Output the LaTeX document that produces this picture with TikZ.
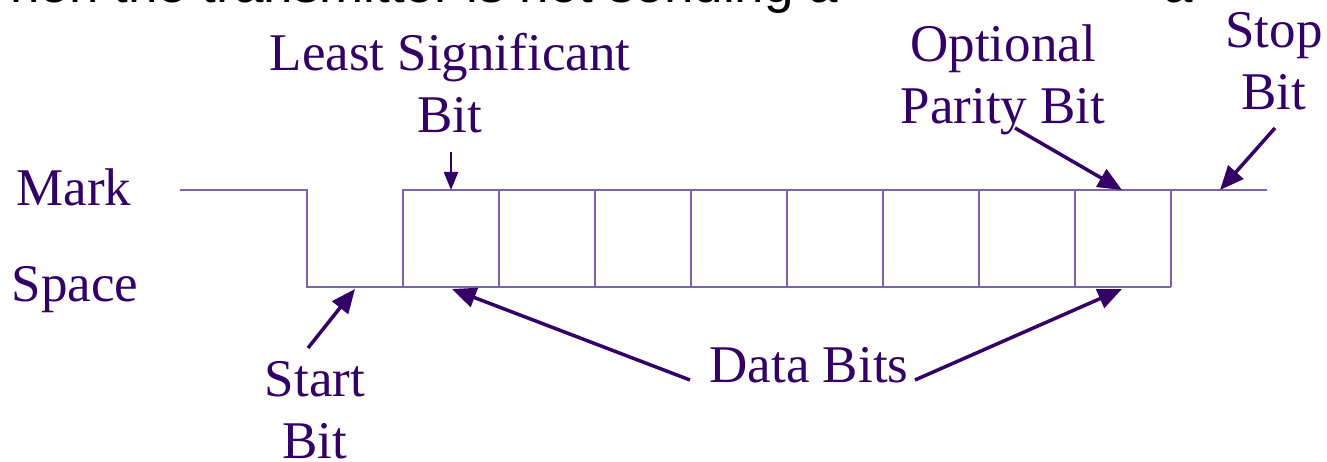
\documentclass[tikz,border=0pt]{standalone}
\usepackage{fontspec}
\setmainfont{Liberation Serif}
\newfontfamily\headfont{Liberation Sans}
\usetikzlibrary{arrows.meta}
\definecolor{ink}{HTML}{330066}
\definecolor{wire}{HTML}{7D64A6}
\tikzset{
  lbl/.style={text=ink, font=\fontsize{53}{62}\selectfont, align=center, inner sep=0pt},
  headline/.style={anchor=base west, inner sep=0pt, font=\headfont\fontsize{53}{62}\selectfont},
  wave/.style={wire, line width=2pt},
  pointer/.style={ink, line width=3.5pt, -{Triangle[length=24pt,width=20pt]}},
  smallpointer/.style={ink, line width=2.5pt, -{Triangle[length=18pt,width=14pt]}}
}
\begin{document}
\begin{tikzpicture}[x=1pt,y=-1pt]
                \useasboundingbox (0,0) rectangle (1327,462);
                \clip (0,0) rectangle (1327,462);
                \node (heading) at (10,3) [headline] {hen the transmitter is not sending a};
                \node (headtail) at (1163,3) [headline] {a};
                % line levels
                \draw[wave] (180,190) -- (307,190) -- (307,287) -- (403,287) -- (403,190) -- (1267,190);
                \draw[wave] (403,287) -- (1171,287);
                \foreach \i in {1,...,8}
                    \draw[wave] (403+96*\i,190) -- (403+96*\i,287);
                \node (mark)   at (74,187)   [lbl] {Mark};
                \node (space)  at (75,290)   [lbl] {Space};
                \node (lsb)    at (450,83)   [lbl] {Least Significant\\Bit};
                \node (parity) at (1003,80)  [lbl] {Optional\\Parity Bit};
                \node (stop)   at (1274,61)  [lbl] {Stop\\Bit};
                \node (start)  at (315,410)  [lbl] {Start\\Bit};
                \node (data)   at (809,365)  [lbl] {Data Bits};
                % arrow ends
                \coordinate (lsbtail)    at (451,152);
                \coordinate (lsbtip)     at (451,190);
                \coordinate (paritytail) at (1015,128);
                \coordinate (paritytip)  at (1122,190);
                \coordinate (stoptail)   at (1275,128);
                \coordinate (stoptip)    at (1220,190);
                \coordinate (starttail)  at (308,348);
                \coordinate (starttip)   at (355,289);
                \coordinate (datalt)     at (690,380);
                \coordinate (datalefttip) at (452,289);
                \coordinate (datart)     at (915,380);
                \coordinate (datarighttip) at (1122,289);
                \draw[smallpointer] (lsbtail) -- (lsbtip);
                \draw[pointer] (paritytail) -- (paritytip);
                \draw[pointer] (stoptail) -- (stoptip);
                \draw[pointer] (starttail) -- (starttip);
                \draw[pointer] (datalt) -- (datalefttip);
                \draw[pointer] (datart) -- (datarighttip);
\end{tikzpicture}
\end{document}
